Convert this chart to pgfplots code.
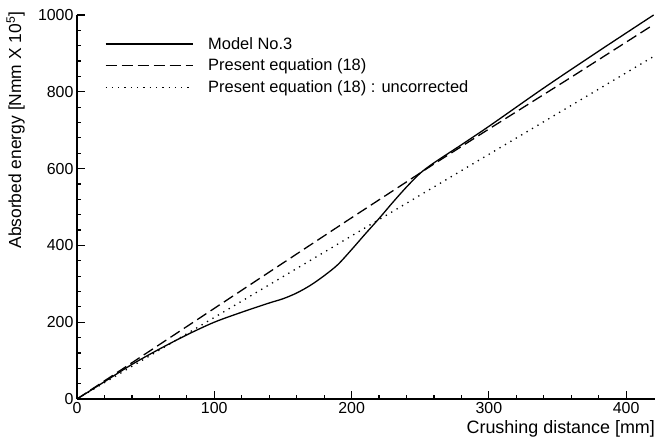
\documentclass[border=0pt]{standalone}
\usepackage{pgfplots}
\pgfplotsset{compat=1.18}
\usepackage{fontspec}
\setmainfont{Liberation Sans}
\begin{document}
\begin{tikzpicture}
\begin{axis}[
  scale only axis,
  width=578bp, height=384bp,
  xmin=0, xmax=421, ymin=0, ymax=1000,
  axis lines*=left,
  axis line style={line width=1.7bp},
  xtick={0,100,200,300,400},
  ytick={0,200,400,600,800,1000},
  minor x tick num=4, minor y tick num=4,
  tick align=inside,
  major tick length=8bp, minor tick length=4bp,
  tick style={line width=1.2bp, black},
  /pgf/number format/assume math mode=true,
  /pgf/number format/1000 sep={},
  ticklabel style={font=\fontsize{16}{18}\selectfont},
  xlabel={Crushing distance [mm]},
  ylabel={Absorbed energy [Nmm X 10\textsuperscript{5}]},
  x label style={font=\fontsize{18}{20}\selectfont, at={(axis description cs:1.006,0)}, anchor=north east, yshift=-18bp},
  y label style={font=\fontsize{17.5}{19}\selectfont, at={(axis description cs:-0.106,1.018)}, anchor=east},
  legend style={draw=none, fill=none, at={(axis description cs:0.048,0.948)}, anchor=north west,
    font=\fontsize{16.5}{19}\selectfont, inner sep=0pt, row sep=4.5bp},
  legend cell align=left,
  legend image code/.code={\draw[#1] (0bp,0bp) -- (87bp,0bp); \path (100bp,0bp);},
]
\addplot[black, line width=1.3bp, smooth] coordinates {
(0,0) (20,45) (40,90) (60,130) (80,167) (100,200) (120,226) (140,250) (150,261)
(160,276) (170,296) (180,321) (190,350) (200,389) (210,430) (220,470) (230,512)
(240,552) (250,588) (260,615) (280,662) (300,710) (340,810) (380,906) (420,1000)};
\addlegendentry{Model No.3}
\addplot[black, line width=1.3bp, dash pattern=on 11bp off 5bp] coordinates {
(0,0) (100,236) (200,472) (260,612) (300,703) (360,838) (420,975)};
\addlegendentry{Present equation (18)}
\addplot[black, line width=1.3bp, dash pattern=on 1.3bp off 5bp] coordinates {
(0,0) (420,892)};
\addlegendentry{Present equation (18) : uncorrected}
\end{axis}
\pgfresetboundingbox
\useasboundingbox (-77bp,-42bp) rectangle (583bp,399bp);
\end{tikzpicture}
\end{document}
